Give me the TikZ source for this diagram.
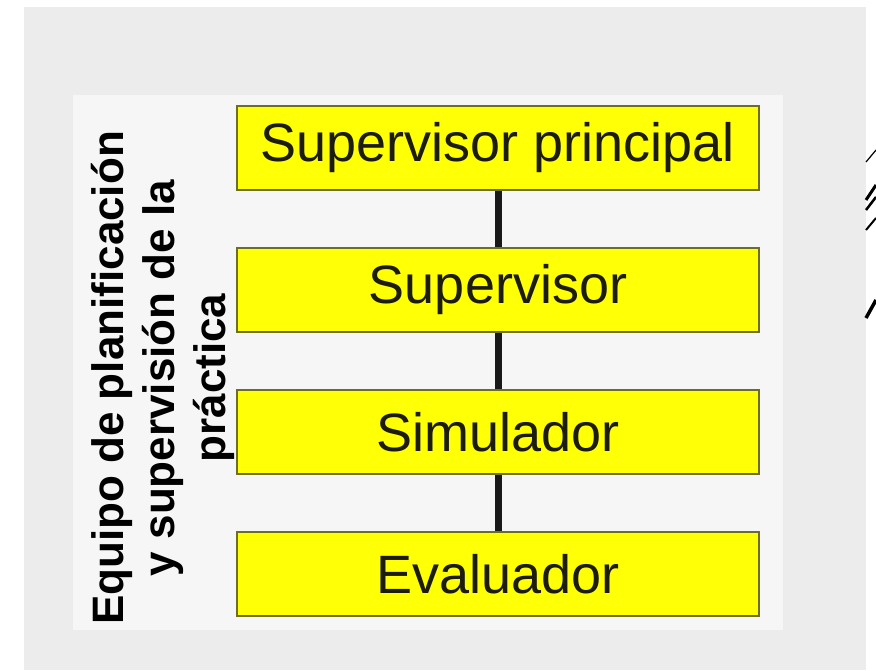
\documentclass[tikz,border=0pt]{standalone}
\usepackage{fontspec}
\setmainfont{Liberation Sans}
\usetikzlibrary{positioning,backgrounds}

\definecolor{panelgray}{HTML}{ECECEC}
\definecolor{panellight}{HTML}{F6F6F6}
\definecolor{boxyellow}{HTML}{FFFF05}
\definecolor{boxedge}{HTML}{6E6E22}
\definecolor{inktext}{HTML}{1C1C10}

\begin{document}
\begin{tikzpicture}[
      x=1pt, y=-1pt,
      node distance=56pt,
      rolebox/.style={
        draw=boxedge, line width=2pt, fill=boxyellow,
        minimum width=522pt, minimum height=84pt, inner sep=0pt,
        text=inktext, font=\fontsize{54}{60}\selectfont},
      link/.style={line width=7pt, draw=black!90},
      sidelab/.style={rotate=90, align=center, text=black,
        font=\fontsize{44}{51}\selectfont\bfseries},
      edgemark/.style={draw=black, line width=#1},
    ]
    % canvas: white sheet, gray panel, light inner panel
    \useasboundingbox (0,0) rectangle (876,670);
    \fill[white] (0,0) rectangle (876,670);
    \fill[panelgray] (24,7) rectangle (866,670);
    \fill[panellight] (73,95) rectangle (783,630);

    \node[rolebox] (princ) at (498,148) {Supervisor principal};
    \node[rolebox, below=of princ] (superv) {Supervisor};
    \node[rolebox, below=of superv] (simul) {Simulador};
    \node[rolebox, below=of simul] (eval) {Evaluador};

    \draw[link] (princ) -- (superv);
    \draw[link] (superv) -- (simul);
    \draw[link] (simul) -- (eval);

    \node[sidelab] (team) at (163,378)
      {Equipo de planificación\\y supervisión de la\\práctica};

    % cut-off strokes at the right edge
    \draw[edgemark=1.2pt] (866,162) -- (876,150);
    \draw[edgemark=3pt] (866,200) -- (876,185);
    \draw[edgemark=2.5pt] (866,210) -- (876,197);
    \draw[edgemark=2pt] (866,230) -- (876,218);
    \draw[edgemark=3.5pt] (866,318) -- (876,300);
  \end{tikzpicture}
\end{document}
